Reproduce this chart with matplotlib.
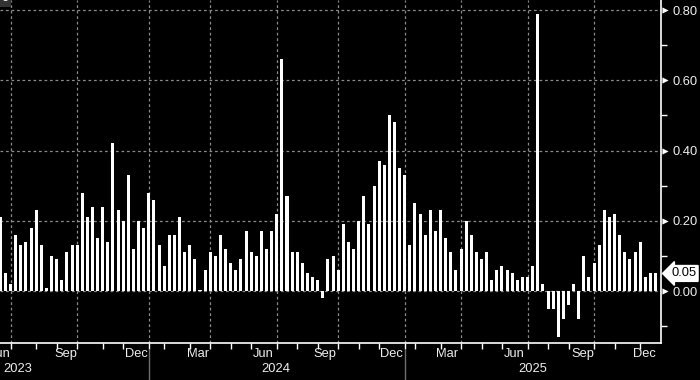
import numpy as np
import matplotlib
matplotlib.use("Agg")
import matplotlib.pyplot as plt
import matplotlib.transforms as mtransforms
from matplotlib.lines import Line2D

plt.rcParams['font.family'] = ['Liberation Sans', 'DejaVu Sans']

values = [
    0.21, 0.05, 0.02, 0.16, 0.13, 0.14, 0.18, 0.23, 0.13, 0.01,
    0.10, 0.09, 0.03, 0.11, 0.13, 0.13, 0.28, 0.21, 0.24, 0.15,
    0.24, 0.14, 0.42, 0.23, 0.20, 0.33, 0.12, 0.20, 0.18, 0.28,
    0.26, 0.13, 0.07, 0.16, 0.16, 0.21, 0.11, 0.13, 0.09, 0.003,
    0.06, 0.11, 0.10, 0.16, 0.12, 0.08, 0.06, 0.09, 0.17, 0.11,
    0.10, 0.17, 0.12, 0.17, 0.22, 0.66, 0.27, 0.11, 0.11, 0.08,
    0.05, 0.04, 0.03, -0.02, 0.09, 0.10, 0.06, 0.19, 0.14, 0.12,
    0.20, 0.27, 0.19, 0.30, 0.37, 0.36, 0.50, 0.48, 0.35, 0.33,
    0.13, 0.25, 0.22, 0.16, 0.23, 0.17, 0.23, 0.15, 0.11, 0.06,
    0.12, 0.20, 0.16, 0.11, 0.09, 0.11, 0.03, 0.06, 0.07, 0.06,
    0.05, 0.03, 0.04, 0.04, 0.07, 0.79, 0.02, -0.05, -0.05, -0.13,
    -0.08, -0.04, 0.02, -0.08, 0.10, 0.04, 0.08, 0.13, 0.23, 0.21,
    0.22, 0.16, 0.11, 0.09, 0.11, 0.14, 0.04, 0.05, 0.05,
]

# observation index of the first week of each month / quarter
month_starts = [2, 7, 11, 15, 20, 24, 29, 32, 37, 41, 45, 49, 54, 58, 62,
                66, 70, 74, 79, 81, 86, 90, 94, 98, 103, 107, 111, 116, 120, 125]
quarter_starts = [2, 15, 29, 41, 54, 66, 79, 90, 103, 116]
year_starts = [29, 79]

month_labels = ['Jun', 'Sep', 'Dec', 'Mar', 'Jun', 'Sep', 'Dec', 'Mar', 'Jun', 'Sep', 'Dec']
month_label_pos = [0.0, 12.8, 26.5, 38.6, 51.3, 63.4, 76.3, 87.3, 100.4, 113.8, 125.9]
year_labels = ['2023', '2024', '2025']
year_label_pos = [None, 53.9, 104.1]

y_ticks = [0.0, 0.2, 0.4, 0.6, 0.8]
y_minor = [-0.1, 0.1, 0.3, 0.5, 0.7]

FS = 9.3
TXT = '#eeeeee'

# ---- figure ----
W, H = 700, 380
fig = plt.figure(figsize=(W / 100, H / 100), dpi=100, facecolor='black')
ax = fig.add_axes([0, 1 - 343 / H, 661 / W, 343 / H])
ax.set_facecolor('black')

x = np.arange(len(values))
ax.bar(x, values, width=0.59, color='white', zorder=3, linewidth=0)
ax.set_xlim(-0.074, 129.07)
ax.set_ylim(-0.148, 0.8285)

grid_kw = dict(color='#8a8a8a', lw=0.9, ls=(0, (2.2, 2.2)), zorder=1)
for q in quarter_starts:
    ax.axvline(q, **grid_kw)
for yv in y_ticks:
    ax.axhline(yv, **grid_kw)

for s in ['top', 'left']:
    ax.spines[s].set_visible(False)
for s in ['right', 'bottom']:
    ax.spines[s].set_color('white')
    ax.spines[s].set_linewidth(1.2)

# y axis (right)
ax.yaxis.tick_right()
ax.set_yticks(y_ticks)
ax.set_yticklabels([f"{v:.2f}" for v in y_ticks])
ax.set_yticks(y_minor, minor=True)
ax.tick_params(axis='y', which='major', length=0, pad=8.5, labelcolor=TXT,
               labelsize=FS)
ax.tick_params(axis='y', which='minor', length=4, width=1, color='white', direction='out')
ax.scatter([1.0 + 4 / 661] * len(y_ticks), y_ticks, marker='>', s=20, color='white',
           transform=mtransforms.blended_transform_factory(ax.transAxes, ax.transData),
           clip_on=False, zorder=5, linewidths=0)

# x axis (bottom)
ax.set_xticks(month_starts)
ax.set_xticklabels([])
ax.tick_params(axis='x', which='major', length=4, width=1, color='white', direction='out')

tr = mtransforms.blended_transform_factory(ax.transData, fig.transFigure)
for lab, pos in zip(month_labels, month_label_pos):
    fig.text(pos, 1 - 354 / H, lab, transform=tr, ha='center', va='center',
             color=TXT, fontsize=FS)
for lab, pos in zip(year_labels, year_label_pos):
    if pos is None:
        fig.text(3 / W, 1 - 369 / H, lab, ha='left', va='center', color=TXT, fontsize=FS)
    else:
        fig.text(pos, 1 - 369 / H, lab, transform=tr, ha='center', va='center',
                 color=TXT, fontsize=FS)
for ys in year_starts:
    fig.add_artist(Line2D([ys, ys], [1 - 350 / H, 0], transform=tr, color='#6e6e6e', lw=1))

# last value label
last = values[-1]
trv = mtransforms.blended_transform_factory(fig.transFigure, ax.transData)
ax.text(671 / W, last, f"{last:.2f}", transform=trv, ha='left', va='center',
        color='black', fontsize=FS, zorder=6,
        bbox=dict(boxstyle='larrow,pad=0.15', fc='white', ec='white'))

# clipped legend stub in top-left corner
fig.text(1 / W, 1 + 2 / H, '0', ha='left', va='center', color='white', fontsize=FS,
         bbox=dict(boxstyle='square,pad=0.2', fc='#333333', ec='none'))

fig.savefig('out.png', dpi=100, facecolor='black')
